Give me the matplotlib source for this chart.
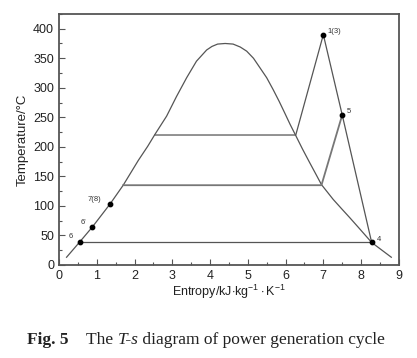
import matplotlib
matplotlib.use('Agg')
import matplotlib.pyplot as plt
from matplotlib.ticker import MultipleLocator

plt.rcParams['font.family'] = 'Liberation Sans'
plt.rcParams['mathtext.fontset'] = 'custom'
plt.rcParams['mathtext.rm'] = 'Liberation Sans'
plt.rcParams['mathtext.it'] = 'Liberation Sans:italic'

# saturation dome (entropy, temperature)
dome_s = [0.2, 0.55, 0.88, 1.35, 1.70, 2.1, 2.35, 2.54, 2.85, 3.11, 3.38, 3.64, 3.91, 4.05, 4.2,
          4.4, 4.61, 4.8, 4.97, 5.15, 5.32, 5.5, 5.67, 5.83, 5.98, 6.12, 6.27, 6.45, 6.64,
          6.8, 6.95, 7.26, 7.5, 7.70, 7.95, 8.28, 8.8]
dome_T = [13, 39, 64, 103, 135, 177, 201, 221, 252, 285, 317, 345, 364, 370, 374,
          375, 374, 369, 362, 350, 334, 317, 297, 277, 257, 238, 219, 196, 173,
          154, 136, 111, 94, 80, 62, 38, 13]

# cycle lines
high_s = [2.54, 6.27, 7.0, 7.5, 8.28]
high_T = [220, 220, 390, 254, 38]
mid_s = [1.70, 6.95, 7.5]
mid_T = [135, 135, 254]
low_s = [0.55, 8.28]
low_T = [38, 38]

# state points
pt_s = [7.0, 7.5, 8.28, 0.55, 0.88, 1.35]
pt_T = [390, 254, 38, 39, 64, 103]
pt_lbl = ['1(3)', '5', '4', '6', "6'", '7(8)']
pt_dx = [0.12, 0.12, 0.15, -0.3, -0.3, -0.6]
pt_dy = [3, 3, 3, 6, 6, 6]

fig = plt.figure(figsize=(4.17, 3.58), dpi=100)
ax = fig.add_axes([0.1415, 0.26, 0.815, 0.701])

line_c = '#555555'
ax.plot(dome_s, dome_T, color=line_c, lw=0.9)
ax.plot(high_s, high_T, color=line_c, lw=0.9)
ax.plot(mid_s, mid_T, color='#777777', lw=1.3)
ax.plot(low_s, low_T, color=line_c, lw=0.9)
ax.scatter(pt_s, pt_T, s=10, color='black', zorder=5)
for s, T, lbl, dx, dy in zip(pt_s, pt_T, pt_lbl, pt_dx, pt_dy):
    ax.text(s + dx, T + dy, lbl, fontsize=5.5, color='#333333')

ax.set_xlim(0, 9)
ax.set_ylim(0, 425)
ax.xaxis.set_major_locator(MultipleLocator(1))
ax.xaxis.set_minor_locator(MultipleLocator(0.5))
ax.yaxis.set_major_locator(MultipleLocator(50))
ax.yaxis.set_minor_locator(MultipleLocator(25))
ax.tick_params(which='both', direction='in', color='#555555', labelsize=9,
               labelcolor='#222222', width=0.8)
ax.tick_params(which='major', length=4)
ax.tick_params(which='minor', length=2.5)
for sp in ax.spines.values():
    sp.set_color('#555555')
    sp.set_linewidth(1.3)

ax.set_xlabel(r'Entropy/kJ$\cdot$kg$^{-1}\cdot$K$^{-1}$', fontsize=9, color='#222222', labelpad=1)
ax.set_ylabel('Temperature/°C', fontsize=9.5, color='#222222', labelpad=3)

# caption, pieces placed one after another
fig.canvas.draw()
renderer = fig.canvas.get_renderer()
parts = [('Fig. 5', 'bold', 'normal', 0.0), ('The ', 'normal', 'normal', 0.043),
         ('T-s', 'normal', 'italic', 0.0), (' diagram of power generation cycle', 'normal', 'normal', 0.0)]
x = 0.064
for txt, wt, st, gap in parts:
    x += gap
    t = fig.text(x, 0.04, txt, fontsize=12.5, family='Liberation Serif', weight=wt,
                 style=st, color='#222222')
    bb = t.get_window_extent(renderer)
    x += bb.width / fig.bbox.width

fig.savefig('out.png', dpi=100)
